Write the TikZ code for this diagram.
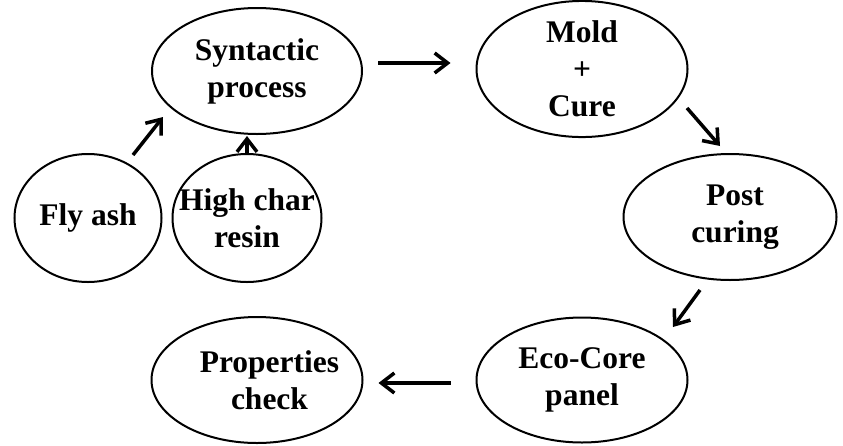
\documentclass[tikz,border=0pt]{standalone}
\usepackage{fontspec}
\setmainfont{Liberation Serif}
\usetikzlibrary{shapes.geometric,arrows.meta}
\begin{document}
\begin{tikzpicture}[x=1pt,y=-1pt,
  stage/.style={draw=black, line width=2pt, ellipse, inner xsep=-30pt, inner ysep=0pt,
    align=center, font=\fontsize{31.5}{37}\selectfont\bfseries},
  flow/.style={line width=3.5pt, -{Straight Barb[length=13pt,width=20pt,line width=3.5pt]}}]
\useasboundingbox (0,0) rectangle (843,445);

% process stages
\node[stage, minimum width=210, minimum height=126] (syn) at (257,71) {Syntactic\\process};
\node[stage, minimum width=211, minimum height=128] (mold) at (582,69) {Mold\\+\\Cure};
\node[stage, minimum width=213, minimum height=126] (post) at (730,217) {\hspace*{10pt}Post\\\hspace*{10pt}curing};
\node[stage, minimum width=211, minimum height=125] (eco) at (582,380) {Eco-Core\\panel};
\node[stage, minimum width=211, minimum height=126] (prop) at (257,380) {\hspace*{25pt}Properties\\\hspace*{25pt}check};

% raw materials
\node[stage, minimum width=147, minimum height=128] (ash) at (88,218) {Fly ash};
\node[stage, minimum width=149, minimum height=128] (resin) at (247,218) {High char\\resin};

% arrow end points, kept clear of the outlines
\coordinate (a1) at ([xshift=15]syn.east |- 0,63);
\coordinate (a2) at ([xshift=-25]mold.west |- 0,63);
\coordinate (b1) at (687,108);
\coordinate (b2) at (720,146);
\coordinate (c1) at (700,290);
\coordinate (c2) at (673,327);
\coordinate (d1) at ([xshift=-25]eco.west |- 0,383);
\coordinate (d2) at ([xshift=15]prop.east |- 0,383);
\coordinate (e1) at (133,155);
\coordinate (e2) at (163,117);
\coordinate (f1) at (resin.north);
\coordinate (f2) at ([yshift=-1]syn.south -| resin.north);

\draw[flow] (a1) -- (a2);
\draw[flow] (b1) -- (b2);
\draw[flow] (c1) -- (c2);
\draw[flow] (d1) -- (d2);
\draw[flow] (e1) -- (e2);
\draw[flow] (f1) -- (f2);
\end{tikzpicture}
\end{document}
